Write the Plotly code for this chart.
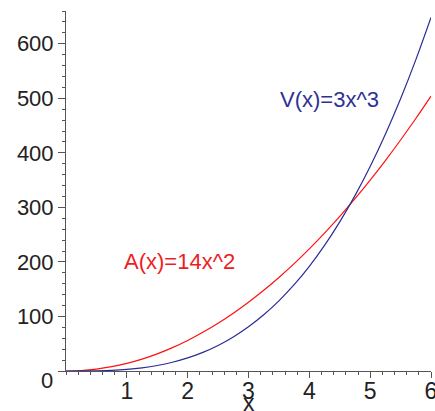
import plotly.graph_objects as go

x_vals = [0, 0.25, 0.5, 0.75, 1, 1.25, 1.5, 1.75, 2, 2.25, 2.5, 2.75, 3,
          3.25, 3.5, 3.75, 4, 4.25, 4.5, 4.75, 5, 5.25, 5.5, 5.75, 6]
v_vals = [0, 0.05, 0.38, 1.27, 3, 5.86, 10.13, 16.08, 24, 34.17, 46.88, 62.39, 81,
          102.98, 128.63, 158.2, 192, 230.3, 273.38, 321.52, 375, 434.11, 499.13, 570.33, 648]
a_vals = [0, 0.88, 3.5, 7.88, 14, 21.88, 31.5, 42.88, 56, 70.88, 87.5, 105.88, 126,
          147.88, 171.5, 196.88, 224, 252.88, 283.5, 315.88, 350, 385.88, 423.5, 462.88, 504]

x_ticks = [1, 2, 3, 4, 5, 6]
y_ticks = [0, 100, 200, 300, 400, 500, 600]
y_ticktext = ["", "100", "200", "300", "400", "500", "600"]

label_v = "V(x)=3x^3"
label_a = "A(x)=14x^2"

blue = "#2b2b96"
red = "#ff1010"
axis_col = "#555555"
font_fam = "Liberation Sans, Arial, sans-serif"

fig = go.Figure()

fig.add_trace(go.Scatter(x=x_vals, y=a_vals, mode="lines", line=dict(color=red, width=1.2, shape="spline"),
                         showlegend=False, cliponaxis=False))
fig.add_trace(go.Scatter(x=x_vals, y=v_vals, mode="lines", line=dict(color=blue, width=1.2, shape="spline"),
                         showlegend=False, cliponaxis=False))

fig.add_annotation(x=4.33, y=498, text=label_v, showarrow=False,
                   font=dict(color="#2e3192", size=22, family=font_fam))
fig.add_annotation(x=1.87, y=200, text=label_a, showarrow=False,
                   font=dict(color="#ee1c24", size=22, family=font_fam))
# axis title
fig.add_annotation(x=3, y=0, yref="y", yshift=-32, text="x", showarrow=False,
                   font=dict(color="#222222", size=23, family=font_fam))
# "0" label sits a little below the origin, as in the original
fig.add_annotation(x=0, y=0, xanchor="right", xshift=-11, yshift=-9, text="0", showarrow=False,
                   font=dict(color="#222222", size=22, family=font_fam))

fig.update_layout(
    width=435, height=411,
    margin=dict(l=66, r=4, t=11, b=40),
    plot_bgcolor="white", paper_bgcolor="white",
    font=dict(family=font_fam, color="#222222"),
    showlegend=False,
    xaxis=dict(
        range=[0, 6], tickvals=x_ticks, showgrid=False, zeroline=False,
        showline=True, linecolor=axis_col, linewidth=1, automargin=False,
        ticks="outside", ticklen=6, tickcolor=axis_col, tickwidth=1,
        ticklabeloverflow="allow", ticklabelstandoff=-7,
        tickfont=dict(size=23, family=font_fam, color="#222222"),
        minor=dict(dtick=0.2, ticks="outside", ticklen=3, tickcolor=axis_col, showgrid=False),
    ),
    yaxis=dict(
        range=[0, 660], tickvals=y_ticks, ticktext=y_ticktext, showgrid=False, zeroline=False,
        showline=True, linecolor=axis_col, linewidth=1, automargin=False,
        ticks="outside", ticklen=7, tickcolor=axis_col, tickwidth=1,
        ticklabeloverflow="allow",
        tickfont=dict(size=22, family=font_fam, color="#222222"),
        minor=dict(dtick=20, ticks="outside", ticklen=3, tickcolor=axis_col, showgrid=False),
    ),
)

fig.write_html("out.html", config={"displayModeBar": False},
               post_script="document.body.style.margin='0';document.body.style.overflow='hidden';")
